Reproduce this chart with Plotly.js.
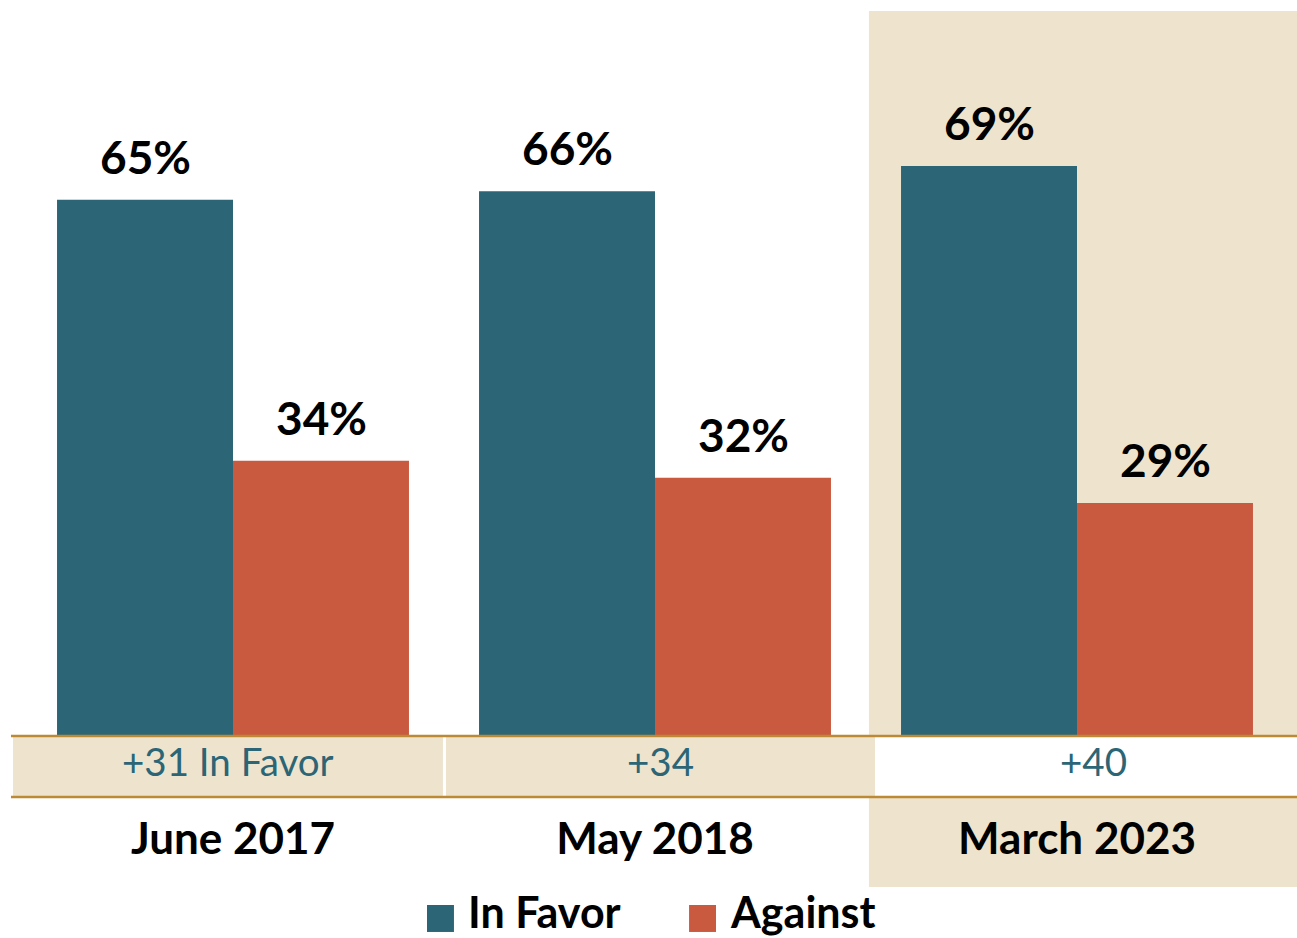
<!DOCTYPE html>
<html>
<head>
<meta charset="utf-8">
<script src="https://cdn.plot.ly/plotly-3.0.1.min.js"></script>
<style>html,body{margin:0;padding:0;background:#fff;}#chart{width:1297px;height:938px;}</style>
</head>
<body>
<div id="chart"></div>
<script>
// ---- data ----
const categories = ["June 2017", "May 2018", "March 2023"];
const inFavor = [65, 66, 69];
const against = [34, 32, 29];
const marginLabels = ["+31 In Favor", "+34", "+40"];
const seriesNames = ["In Favor", "Against"];

// ---- styles ----
const TEAL = "#2B6576", ORANGE = "#C95A40", BEIGE = "#EEE3CC", GOLD = "#BC8A35";
const COLORS = [TEAL, ORANGE];
const FONT = "Lato, 'Open Sans', sans-serif";

const traces = [inFavor, against].map((vals, i) => ({
  type: "bar", name: seriesNames[i], x: categories, y: vals,
  marker: {color: COLORS[i], line: {width: 0}}, hoverinfo: "none"
}));

const annotations = [];
[inFavor, against].forEach((vals, i) => {
  vals.forEach((v, j) => {
    annotations.push({
      x: categories[j], y: v, xref: "x", yref: "y",
      xshift: i === 0 ? -88 : 88, yshift: 14,
      yanchor: "bottom", xanchor: "center", showarrow: false,
      text: v + "%",
      font: {family: FONT, size: 46, color: "#000", weight: "bold"}
    });
  });
});
const marginShift = [-5, 5, 16];
marginLabels.forEach((t, j) => {
  annotations.push({
    x: categories[j], y: -0.0345, xref: "x", yref: "paper",
    xshift: marginShift[j], yanchor: "middle", xanchor: "center", showarrow: false,
    text: t, font: {family: FONT, size: 38.5, color: TEAL}
  });
});

const shapes = [
  {type: "rect", xref: "paper", yref: "paper", x0: 0.669, x1: 1.02, y0: -0.2083, y1: 1.0,
   fillcolor: BEIGE, line: {width: 0}, layer: "below"},
  {type: "rect", xref: "paper", yref: "paper", x0: -0.0071, x1: 0.3325, y0: -0.0841, y1: 0,
   fillcolor: BEIGE, line: {width: 0}, layer: "below"},
  {type: "rect", xref: "paper", yref: "paper", x0: 0.3349, x1: 0.6738, y0: -0.0841, y1: 0,
   fillcolor: BEIGE, line: {width: 0}, layer: "below"},
  {type: "rect", xref: "paper", yref: "paper", x0: 0.6738, x1: 1.02, y0: -0.0841, y1: 0,
   fillcolor: "#FFFFFF", line: {width: 0}, layer: "below"},
  {type: "line", xref: "paper", yref: "paper", x0: -0.0087, x1: 1.02, y0: 0, y1: 0,
   line: {color: GOLD, width: 2.5}, layer: "above"},
  {type: "line", xref: "paper", yref: "paper", x0: -0.0087, x1: 1.02, y0: -0.0841, y1: -0.0841,
   line: {color: GOLD, width: 2.5}, layer: "above"}
];

// custom legend (large swatches)
const legendSwatchX = [0.3199, 0.5269];
const legendTextX = [0.3505, 0.5575];
seriesNames.forEach((name, i) => {
  shapes.push({type: "rect", xref: "paper", yref: "paper",
    x0: legendSwatchX[i], x1: legendSwatchX[i] + 0.0213, y0: -0.2703, y1: -0.2331,
    fillcolor: COLORS[i], line: {width: 0}});
  annotations.push({x: legendTextX[i], y: -0.2414, xref: "paper", yref: "paper",
    xanchor: "left", yanchor: "middle", showarrow: false, text: name,
    font: {family: FONT, size: 43, color: "#000", weight: "bold"}});
});

const layout = {
  width: 1297, height: 938,
  margin: {l: 22, r: 9, t: 11, b: 202},
  paper_bgcolor: "#FFFFFF", plot_bgcolor: "rgba(0,0,0,0)",
  barmode: "group", bargap: 0.166, bargroupgap: 0,
  font: {family: FONT},
  xaxis: {type: "category", showgrid: false, zeroline: false, showline: false,
          ticks: "", ticklabelstandoff: 73, automargin: false,
          tickfont: {family: FONT, size: 44, color: "#000", weight: "bold"}},
  yaxis: {range: [1.34, 87.4], visible: false, showgrid: false, zeroline: false},
  showlegend: false,
  annotations: annotations,
  shapes: shapes
};

Plotly.newPlot(document.getElementById("chart"), traces, layout,
  {displayModeBar: false, staticPlot: true});
</script>
</body>
</html>
